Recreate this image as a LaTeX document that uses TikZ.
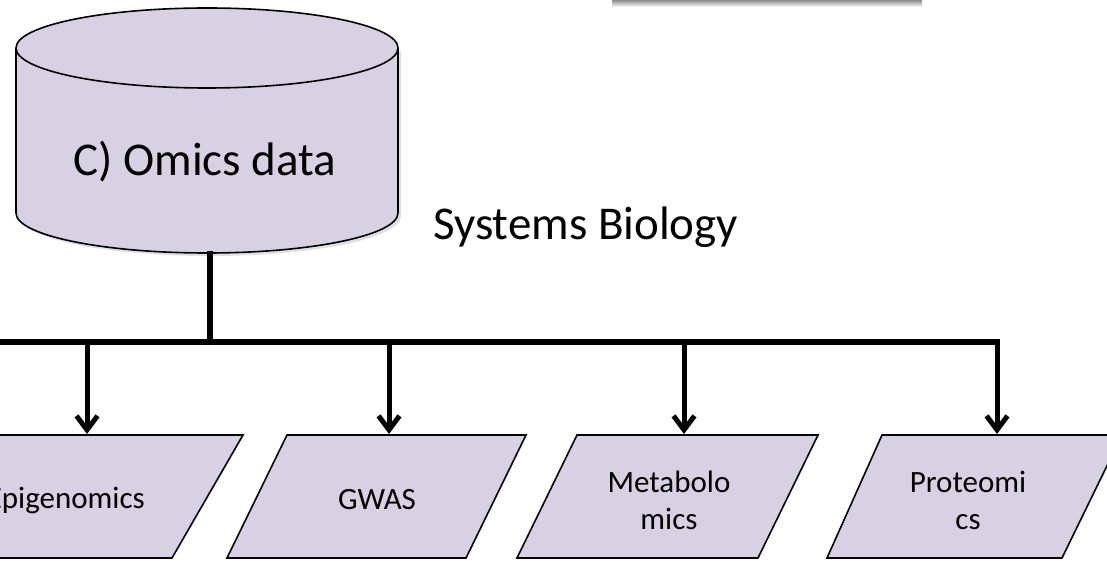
\documentclass[tikz,border=0pt]{standalone}
\usepackage{fontspec}
\setmainfont{Carlito}
\usetikzlibrary{arrows.meta}
\definecolor{lav}{RGB}{216,208,227}
\tikzset{
  shapeline/.style={draw=black, line width=1.6pt, fill=lav, line join=miter},
  busline/.style={line width=5.5pt, draw=black},
  droparrow/.style={line width=5pt, draw=black, -{Straight Barb[length=14pt,width=21pt]}},
  bigtext/.style={font=\fontsize{47}{56}\selectfont, inner sep=0pt},
  smalltext/.style={font=\fontsize{31}{37}\selectfont, align=center, inner sep=0pt},
  sbtext/.style={font=\fontsize{47}{56}\selectfont, inner sep=0pt},
  shadowfill/.style={fill=black, opacity=0.12},
}
\begin{document}
\begin{tikzpicture}[x=1pt,y=1pt]
\useasboundingbox (0,0) rectangle (1107,560);
\clip (0,0) rectangle (1107,560);
% shadow of a box above the picture
\shade[top color=black!45, bottom color=white] (612,560) rectangle (922,553);
% cylinder
\fill[shadowfill] (19,508) -- (19,344) arc[start angle=180,end angle=360,x radius=191,y radius=40] -- (401,508) -- cycle;
\path[shapeline] (16,512) -- (16,347) arc[start angle=180,end angle=360,x radius=191,y radius=40]
  -- (398,512) arc[start angle=0,end angle=180,x radius=191,y radius=40] -- cycle;
\draw[line width=1.6pt] (16,512) arc[start angle=180,end angle=360,x radius=191,y radius=40];
\node[bigtext] (omics) at (205,398) {C) Omics data};
\coordinate (cylbot) at (210,309);
% label
\node[sbtext, anchor=base west] (sysbio) at (433,320) {Systems Biology};
% parallelograms
\path[shapeline] (-47,125) -- (243,125) -- (172,2) -- (-118,2) -- cycle;
\path[shapeline] (287,125) -- (526,125) -- (466,2) -- (227,2) -- cycle;
\path[shapeline] (577,125) -- (818,125) -- (758,2) -- (517,2) -- cycle;
\path[shapeline] (882,125) -- (1122,125) -- (1062,2) -- (827,2) -- cycle;
\node[smalltext, anchor=east] (epi) at (145,60) {Epigenomics};
\node[smalltext] (gwas) at (377,60) {GWAS};
\node[smalltext] (meta) at (669,60) {Metabolo\\mics};
\node[smalltext] (prot) at (968,60) {Proteomi\\cs};
% connector coordinates
\coordinate (bus) at (210,218);
\coordinate (busL) at (-5,218);
\coordinate (busR) at (997,218);
\coordinate (b1) at (87,218);
\coordinate (b2) at (389,218);
\coordinate (b3) at (684,218);
\coordinate (t1) at (87,126);
\coordinate (t2) at (389,126);
\coordinate (t3) at (684,126);
\coordinate (t4) at (997,126);
\draw[busline] (cylbot) -- (bus);
\draw[busline, line join=miter] (busL) -- (busR) -- ++(0,-2.75);
\draw[droparrow] (b1) -- (t1);
\draw[droparrow] (b2) -- (t2);
\draw[droparrow] (b3) -- (t3);
\draw[droparrow] (busR) -- (t4);
\end{tikzpicture}
\end{document}
